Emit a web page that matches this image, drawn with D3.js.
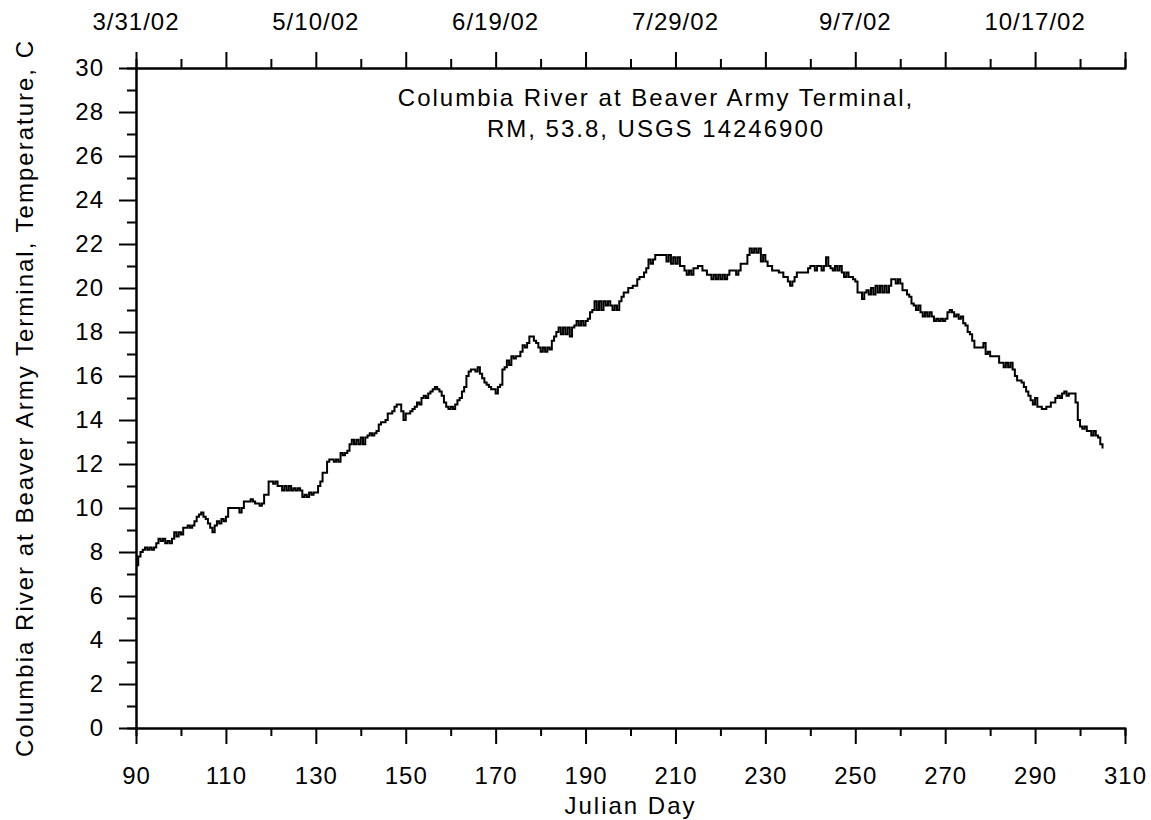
<!DOCTYPE html>
<html>
<head>
<meta charset="utf-8">
<script src="https://cdn.jsdelivr.net/npm/d3@7"></script>
<style>
  html, body { margin: 0; padding: 0; background: #fff; }
  svg { display: block; font-family: "Liberation Sans", Arial, sans-serif; }
</style>
</head>
<body>
<svg id="chart" width="1151" height="820"></svg>
<script>
// Water temperature record, half-day samples starting at Julian day 90
const firstDay = 90;
const sampleStep = 0.5;
const tempC = [
  7.4, 7.8, 8.0, 8.1, 8.2, 8.1, 8.2, 8.1, 8.2, 8.4,
  8.6, 8.5, 8.6, 8.4, 8.5, 8.4, 8.6, 8.9, 8.7, 8.9,
  8.8, 9.1, 9.1, 9.2, 9.1, 9.2, 9.4, 9.6, 9.7, 9.8,
  9.6, 9.5, 9.3, 9.1, 8.9, 9.2, 9.4, 9.3, 9.5, 9.4,
  9.6, 10.0, 10.0, 10.0, 10.0, 10.0, 9.8, 10.0, 10.3, 10.3,
  10.3, 10.4, 10.3, 10.2, 10.2, 10.1, 10.2, 10.6, 10.6, 11.2,
  11.2, 11.1, 11.2, 11.0, 11.0, 10.8, 11.0, 10.8, 11.0, 10.8,
  10.9, 10.8, 10.9, 10.8, 10.5, 10.6, 10.5, 10.7, 10.6, 10.7,
  10.7, 11.0, 11.2, 11.6, 11.6, 12.1, 12.2, 12.2, 12.1, 12.2,
  12.1, 12.5, 12.4, 12.5, 12.6, 12.9, 13.1, 12.9, 13.1, 12.9,
  13.2, 12.9, 13.2, 13.3, 13.4, 13.3, 13.4, 13.5, 13.8, 13.9,
  13.9, 14.0, 14.3, 14.3, 14.4, 14.6, 14.7, 14.7, 14.4, 14.0,
  14.3, 14.3, 14.4, 14.5, 14.6, 14.8, 14.7, 15.0, 15.1, 15.0,
  15.2, 15.3, 15.4, 15.5, 15.4, 15.3, 15.1, 14.8, 14.6, 14.5,
  14.6, 14.5, 14.7, 14.9, 15.0, 15.3, 15.5, 16.0, 16.2, 16.3,
  16.3, 16.2, 16.4, 16.1, 15.9, 15.7, 15.6, 15.5, 15.4, 15.4,
  15.2, 15.5, 15.6, 16.3, 16.4, 16.7, 16.5, 16.9, 16.8, 16.9,
  16.9, 17.1, 17.4, 17.3, 17.5, 17.8, 17.8, 17.6, 17.5, 17.3,
  17.1, 17.3, 17.1, 17.3, 17.2, 17.6, 17.8, 18.0, 18.2, 17.9,
  18.2, 17.9, 18.2, 17.8, 18.2, 18.3, 18.5, 18.3, 18.5, 18.3,
  18.5, 18.6, 18.9, 19.0, 19.4, 19.0, 19.4, 19.0, 19.4, 19.2,
  19.4, 19.2, 19.0, 19.2, 19.0, 19.4, 19.6, 19.8, 19.8, 20.0,
  20.0, 20.1, 20.1, 20.4, 20.5, 20.5, 20.7, 20.9, 21.3, 21.1,
  21.3, 21.5, 21.5, 21.5, 21.5, 21.5, 21.2, 21.5, 21.1, 21.4,
  21.1, 21.4, 21.0, 21.0, 20.8, 20.6, 20.8, 20.6, 20.9, 20.9,
  21.0, 21.0, 20.8, 20.8, 20.6, 20.6, 20.4, 20.6, 20.4, 20.6,
  20.4, 20.6, 20.4, 20.6, 20.8, 20.8, 20.8, 20.6, 20.8, 21.1,
  21.1, 21.1, 21.5, 21.8, 21.6, 21.8, 21.6, 21.8, 21.2, 21.5,
  21.2, 21.0, 21.0, 20.8, 20.8, 20.8, 20.7, 20.7, 20.5, 20.5,
  20.3, 20.1, 20.3, 20.5, 20.7, 20.7, 20.7, 20.7, 20.7, 20.9,
  21.0, 21.0, 20.8, 21.0, 21.0, 20.8, 21.0, 21.4, 21.0, 20.9,
  20.8, 21.0, 20.8, 21.0, 20.7, 20.5, 20.7, 20.5, 20.5, 20.4,
  20.3, 19.8, 19.8, 19.5, 19.8, 19.9, 19.7, 20.0, 19.7, 20.1,
  19.8, 20.1, 19.8, 20.1, 19.8, 20.1, 20.4, 20.4, 20.2, 20.4,
  20.2, 19.9, 19.9, 19.7, 19.6, 19.3, 19.2, 19.0, 19.2, 18.9,
  18.7, 18.9, 18.7, 18.9, 18.7, 18.5, 18.6, 18.5, 18.6, 18.5,
  18.6, 18.9, 19.0, 18.9, 18.7, 18.8, 18.6, 18.7, 18.4, 18.3,
  18.0, 17.9, 17.6, 17.3, 17.3, 17.3, 17.3, 17.5, 17.0, 17.1,
  16.9, 16.9, 16.9, 16.9, 16.6, 16.6, 16.4, 16.6, 16.4, 16.6,
  16.3, 16.0, 15.8, 15.8, 15.7, 15.5, 15.3, 15.1, 14.9, 14.7,
  15.0, 14.6, 14.6, 14.5, 14.5, 14.6, 14.6, 14.8, 14.8, 15.0,
  15.1, 15.0, 15.2, 15.3, 15.1, 15.2, 15.2, 15.2, 14.8, 14.0,
  13.7, 13.6, 13.7, 13.5, 13.5, 13.3, 13.5, 13.3, 13.2, 12.9,
  12.7
];

// Axis settings
const xDomain = [90, 310];
const yDomain = [0, 30];
const xMajorTicks = d3.range(90, 311, 20);
const xMinorTicks = d3.range(100, 310, 20);
const yMajorTicks = d3.range(0, 31, 2);
const yMinorTicks = d3.range(1, 30, 2);
// Calendar dates shown on the top axis at their Julian days
const dateTickDays = [90, 130, 170, 210, 250, 290];
const dateTickLabels = ["3/31/02", "5/10/02", "6/19/02", "7/29/02", "9/7/02", "10/17/02"];
const titleLines = ["Columbia River at Beaver Army Terminal,", "RM, 53.8, USGS 14246900"];
const xTitle = "Julian Day";
const yTitle = "Columbia River at Beaver Army Terminal, Temperature, C";

const svg = d3.select("#chart");
const margin = { left: 136, right: 26, top: 68, bottom: 92 };
const W = 1151, H = 820;
const x = d3.scaleLinear().domain(xDomain).range([margin.left, W - margin.right]);
const y = d3.scaleLinear().domain(yDomain).range([H - margin.bottom, margin.top]);

const fontSize = 24;
const tickSpacing = "1px";
const titleSpacing = "2px";
const majorLen = 16, minorLen = 8;

function styleAxis(g) {
  g.select(".domain").attr("stroke", "#000").attr("stroke-width", 2);
  g.selectAll(".tick line").attr("stroke", "#000").attr("stroke-width", 2);
  g.selectAll(".tick text").attr("fill", "#000").attr("font-size", fontSize)
    .attr("letter-spacing", tickSpacing)
    .attr("font-family", "Liberation Sans, Arial, sans-serif");
}

// Bottom axis
const bottomY = y(0);
svg.append("g").attr("transform", `translate(0,${bottomY})`)
  .call(d3.axisBottom(x).tickValues(xMinorTicks).tickSize(minorLen).tickFormat(""))
  .call(styleAxis);
svg.append("g").attr("transform", `translate(0,${bottomY})`)
  .call(d3.axisBottom(x).tickValues(xMajorTicks).tickSize(majorLen).tickSizeOuter(0).tickPadding(23).tickFormat(d3.format("d")))
  .call(styleAxis);

// Top axis (calendar dates)
const topY = y(30);
svg.append("g").attr("transform", `translate(0,${topY})`)
  .call(d3.axisTop(x).tickValues(xMinorTicks).tickSize(minorLen + 1).tickFormat(""))
  .call(styleAxis);
svg.append("g").attr("transform", `translate(0,${topY})`)
  .call(d3.axisTop(x).tickValues(xMajorTicks).tickSize(majorLen).tickSizeOuter(0).tickFormat(""))
  .call(styleAxis);
svg.append("g").selectAll("text").data(dateTickDays).join("text")
  .attr("x", d => x(d)).attr("y", 30)
  .attr("text-anchor", "middle").attr("font-size", fontSize)
  .attr("letter-spacing", tickSpacing)
  .text((d, i) => dateTickLabels[i]);

// Left axis
svg.append("g").attr("transform", `translate(${x(90)},0)`)
  .call(d3.axisLeft(y).tickValues(yMinorTicks).tickSize(minorLen + 1).tickFormat(""))
  .call(styleAxis);
svg.append("g").attr("transform", `translate(${x(90)},0)`)
  .call(d3.axisLeft(y).tickValues(yMajorTicks).tickSize(majorLen + 1).tickSizeOuter(0).tickPadding(15).tickFormat(d3.format("d")))
  .call(styleAxis);

// Temperature trace
const series = tempC.map((v, i) => [firstDay + i * sampleStep, v]);
const line = d3.line().x(d => x(d[0])).y(d => y(d[1])).curve(d3.curveStepAfter);
svg.append("path").datum(series)
  .attr("d", line)
  .attr("fill", "none").attr("stroke", "#000").attr("stroke-width", 2);

// Title
svg.append("g").selectAll("text").data(titleLines).join("text")
  .attr("x", 656).attr("y", (d, i) => 106 + i * 31)
  .attr("text-anchor", "middle").attr("font-size", fontSize)
  .attr("letter-spacing", titleSpacing)
  .text(d => d);

// Axis titles
svg.append("text").attr("x", (x(90) + x(310)) / 2).attr("y", 814)
  .attr("text-anchor", "middle").attr("font-size", fontSize)
  .attr("letter-spacing", titleSpacing).text(xTitle);
svg.append("text")
  .attr("transform", `translate(33,${(y(0) + y(30)) / 2}) rotate(-90)`)
  .attr("text-anchor", "middle").attr("font-size", fontSize)
  .attr("letter-spacing", titleSpacing).text(yTitle);
</script>
</body>
</html>
